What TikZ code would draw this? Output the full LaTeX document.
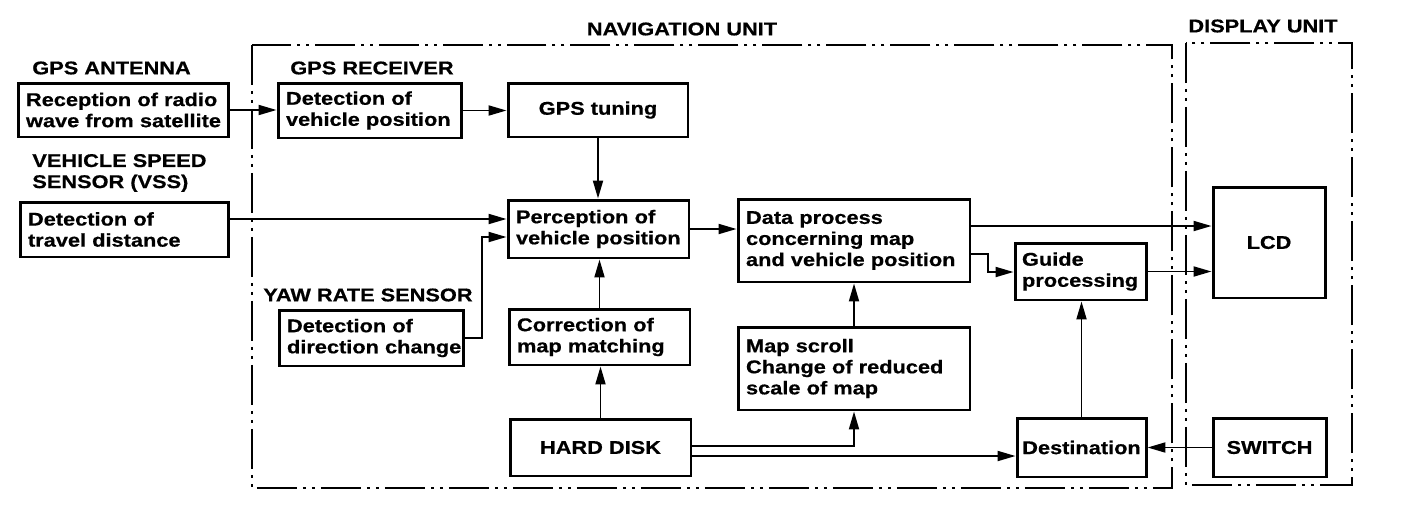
\documentclass[tikz,border=0pt]{standalone}
\usepackage{fontspec}
\setmainfont{Liberation Sans}[FakeStretch=1.18,FakeBold=0.6]
\usetikzlibrary{arrows.meta}

\begin{document}
\begin{tikzpicture}[x=0.02cm,y=-0.02cm,>={Triangle[length=3.6mm,width=2mm]},font=\bfseries\fontsize{10.5}{12}\selectfont,
  blk/.style={draw,line width=1.7pt,inner xsep=0.16cm,inner ysep=0pt,align=left,
    execute at begin node={\hyphenpenalty=10000}},
  cblk/.style={draw,line width=1.7pt,inner sep=0pt,align=center},
  lbl/.style={anchor=west,inner sep=0pt,align=left},
  wire/.style={->,line width=1.1pt},
  unit/.style={line width=1.1pt,dash pattern=on 8mm off 1.2mm on 0.6mm off 1.2mm on 0.6mm off 1.2mm}]
\useasboundingbox (0,0) rectangle (1408,514);
\draw[unit] (252,45) rectangle (1172,488);
\draw[unit] (1186,43) rectangle (1352,485);
\node[inner sep=0pt] (navunit) at (682,29) {NAVIGATION UNIT};
\node[inner sep=0pt] (dispunit) at (1263,26) {DISPLAY UNIT};
\node[lbl] (antenna) at (32,68) {GPS ANTENNA};
\node[lbl] (vss) at (32,173) {VEHICLE SPEED\\SENSOR (VSS)};
\node[lbl] (receiver) at (290,68) {GPS RECEIVER};
\node[lbl] (yaw) at (263,295) {YAW RATE SENSOR};
\node[blk,text width=3.90cm,minimum height=1.08cm] (rx) at (123.5,110) {Reception~of~radio\\wave~from~satellite};
\node[blk,text width=3.86cm,minimum height=1.1cm] (dist) at (124.5,229.5) {Detection of\\travel distance};
\node[blk,text width=3.36cm,minimum height=1.1cm] (rcv) at (370,110.5) {Detection of\\vehicle~position};
\node[cblk,minimum width=3.6cm,minimum height=1.08cm] (tune) at (598,110) {GPS tuning};
\node[blk,text width=3.30cm,minimum height=1.16cm] (perc) at (598.5,229) {Perception of\\vehicle~position};
\node[blk,text width=4.32cm,minimum height=1.66cm] (data) at (854,240.5) {Data process\\concerning map\\and~vehicle~position};
\node[cblk,minimum width=2.24cm,minimum height=2.22cm] (lcd) at (1269,242.5) {LCD};
\node[blk,inner xsep=0.14cm,text width=2.34cm,minimum height=1.14cm] (guide) at (1080.5,271.5) {Guide\\processing};
\node[blk,text width=3.38cm,minimum height=1.12cm] (dir) at (371.5,338) {Detection of\\direction~change};
\node[blk,text width=3.30cm,minimum height=1.12cm] (corr) at (599.5,337) {Correction of\\map matching};
\node[blk,text width=4.32cm,minimum height=1.66cm] (map) at (854,368.5) {Map scroll\\Change of reduced\\scale of map};
\node[cblk,minimum width=3.62cm,minimum height=1.14cm] (hdd) at (600.5,447.5) {HARD DISK};
\node[cblk,minimum width=2.58cm,minimum height=1.18cm] (dest) at (1081.5,447.5) {Destination};
\node[cblk,minimum width=2.26cm,minimum height=1.18cm] (sw) at (1269.5,447.5) {SWITCH};
\draw[wire] (rx.east) -- (rx.east -| rcv.west);
\draw[wire] (rcv.east) -- (rcv.east -| tune.west);
\draw[wire] (tune.south) -- (tune.south |- perc.north);
\draw[wire] (dist.east |- 0,219) -- (perc.west |- 0,219);
\draw[wire] (dir.east) -| (482,237) -- (perc.west |- 0,237);
\draw[wire] (corr.north) -- (corr.north |- perc.south);
\draw[wire] (hdd.north) -- (hdd.north |- corr.south);
\draw[wire] (perc.east) -- (perc.east -| data.west);
\draw[wire] (data.east |- 0,226) -- (lcd.west |- 0,226);
\draw[wire] (data.east |- 0,254) -| (988,272) -- (guide.west |- 0,272);
\draw[wire] (guide.east) -- (guide.east -| lcd.west);
\draw[wire] (map.north) -- (data.south);
\draw[wire] (hdd.east |- 0,446) -| (map.south);
\draw[wire] (hdd.east |- 0,456) -- (dest.west |- 0,456);
\draw[wire] (dest.north) -- (dest.north |- guide.south);
\draw[wire] (sw.west) -- (sw.west -| dest.east);
\end{tikzpicture}
\end{document}
